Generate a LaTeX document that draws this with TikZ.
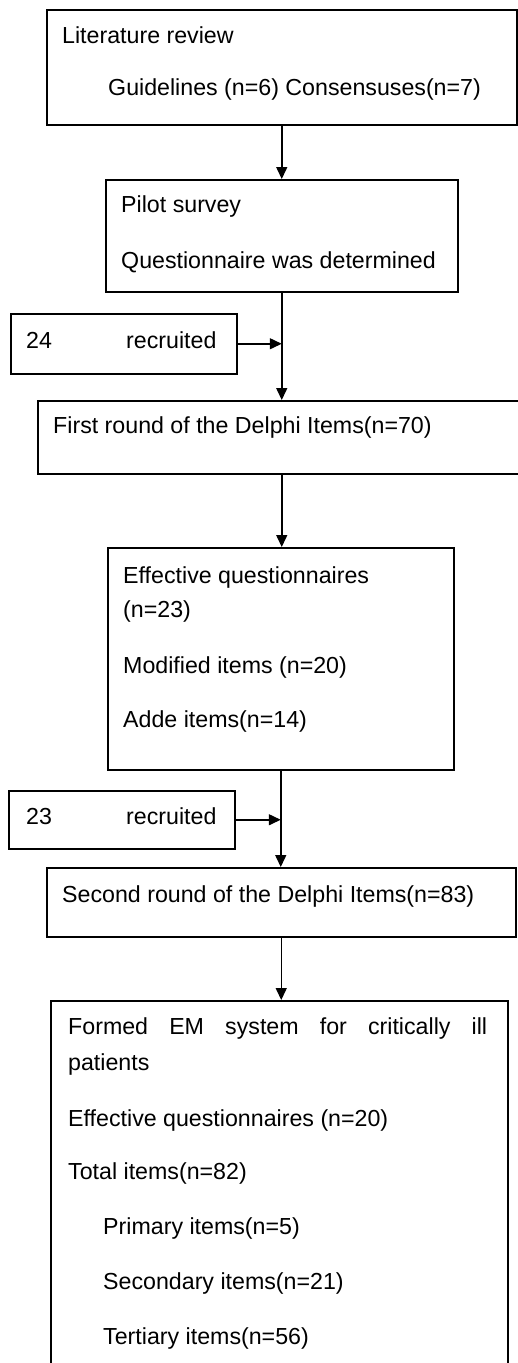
\documentclass[tikz,border=0pt]{standalone}
\usepackage{fontspec}
\setmainfont{Liberation Sans}
\usetikzlibrary{arrows.meta}

\begin{document}
\begin{tikzpicture}[x=1pt,y=-1pt,
    stage/.style={draw,line width=1.5pt,anchor=north west,inner sep=0pt},
    lbl/.style={anchor=base west,inner sep=0pt,font=\fontsize{23.2}{27}\selectfont},
    flow/.style={line width=1.5pt,-{Triangle[length=12pt,width=11pt]}}]
      \useasboundingbox (0,0) rectangle (518,1363);
      % boxes
      \node[stage,minimum width=470pt,minimum height=115pt] (lit) at (46,9) {};
      \node[stage,minimum width=352pt,minimum height=112pt] (pilot) at (105,179) {};
      \node[stage,minimum width=226pt,minimum height=60pt] (recA) at (10,313) {};
      \node[stage,minimum width=488pt,minimum height=73pt] (first) at (37,400) {};
      \node[stage,minimum width=346pt,minimum height=222pt] (effect) at (107,547) {};
      \node[stage,minimum width=226pt,minimum height=58pt] (recB) at (8,790) {};
      \node[stage,minimum width=469pt,minimum height=69pt] (second) at (46,867) {};
      \node[stage,minimum width=457pt,minimum height=380pt] (formed) at (50,1000) {};
      % texts
      \node[lbl] (litT) at (62,43) {Literature review};
      \node[lbl] (litN) at (108,95) {Guidelines (n=6) Consensuses(n=7)};
      \node[lbl] (pilotT) at (121,212) {Pilot survey};
      \node[lbl] (pilotN) at (121,268) {Questionnaire was determined};
      \node[lbl] (recAn) at (26,348) {24};
      \node[lbl] (recAt) at (126,348) {recruited};
      \node[lbl] (firstT) at (53,433) {First round of the Delphi Items(n=70)};
      \node[lbl] (effectT) at (123,583) {Effective questionnaires};
      \node[lbl] (effectN) at (123,617) {(n=23)};
      \node[lbl] (effectM) at (123,673) {Modified items (n=20)};
      \node[lbl] (effectA) at (123,727) {Adde items(n=14)};
      \node[lbl] (recBn) at (26,824) {23};
      \node[lbl] (recBt) at (126,824) {recruited};
      \node[lbl] (secondT) at (62,902) {Second round of the Delphi Items(n=83)};
      \node[lbl] (formedT) at (68,1034) {\makebox[419pt][s]{Formed EM system for critically ill}};
      \node[lbl] (formedP) at (68,1070) {patients};
      \node[lbl] (formedE) at (68,1126) {Effective questionnaires (n=20)};
      \node[lbl] (formedI) at (68,1179) {Total items(n=82)};
      \node[lbl] (formedA) at (103,1234) {Primary items(n=5)};
      \node[lbl] (formedB) at (103,1289) {Secondary items(n=21)};
      \node[lbl] (formedC) at (103,1344) {Tertiary items(n=56)};
      % arrows
      \draw[flow] (lit.south) -- (lit.south |- pilot.north);
      \draw[flow] (pilot.south) -- (pilot.south |- first.north);
      \draw[flow] (recA.east) -- (recA.east -| pilot.south);
      \draw[flow] (first.south) -- (first.south |- effect.north);
      \draw[flow] (effect.south) -- (effect.south |- second.north);
      \draw[flow] (recB.east) -- (recB.east -| effect.south);
      \draw[flow] (second.south) -- (second.south |- formed.north);
    \end{tikzpicture}
\end{document}
